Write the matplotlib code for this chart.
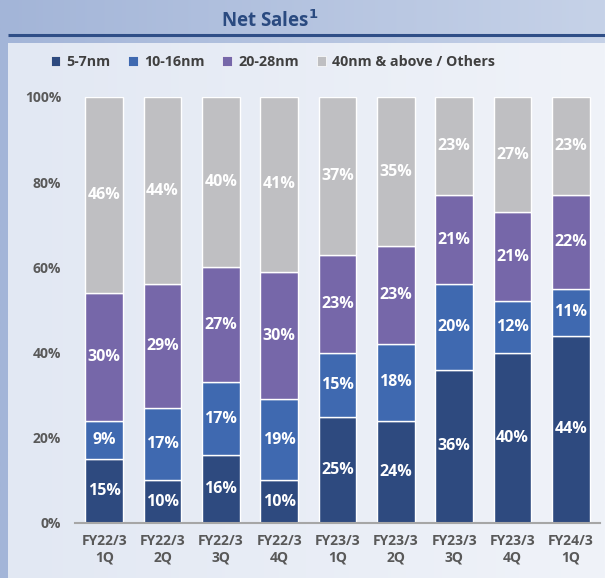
import numpy as np
import matplotlib
matplotlib.use("Agg")
import matplotlib.pyplot as plt
from matplotlib.patches import Patch
from matplotlib.colors import LinearSegmentedColormap

plt.rcParams['font.family'] = ['Open Sans', 'DejaVu Sans']

categories = ["FY22/3\n1Q", "FY22/3\n2Q", "FY22/3\n3Q", "FY22/3\n4Q", "FY23/3\n1Q",
              "FY23/3\n2Q", "FY23/3\n3Q", "FY23/3\n4Q", "FY24/3\n1Q"]
series_names = ["5-7nm", "10-16nm", "20-28nm", "40nm & above / Others"]
s_5_7 = [15, 10, 16, 10, 25, 24, 36, 40, 44]
s_10_16 = [9, 17, 17, 19, 15, 18, 20, 12, 11]
s_20_28 = [30, 29, 27, 30, 23, 23, 21, 21, 22]
s_40 = [46, 44, 40, 41, 37, 35, 23, 27, 23]
yticks = [0, 20, 40, 60, 80, 100]
ytick_labels = ["0%", "20%", "40%", "60%", "80%", "100%"]
title = "Net Sales$^{\\mathbf{1}}$"

colors = ["#2e4a7f", "#3f69b0", "#7667a9", "#bfbfc2"]

W, H = 605, 578
fig = plt.figure(figsize=(W / 100, H / 100), dpi=100)

# background
bg = fig.add_axes([0, 0, 1, 1], zorder=-10)
bg.axis('off')
grad = np.linspace(0, 1, 256).reshape(1, -1)
outer = LinearSegmentedColormap.from_list("o", ["#a3b5d8", "#c6d2e8"])
panel = LinearSegmentedColormap.from_list("p", ["#e2e8f3", "#f0f3f9"])
bg.imshow(grad, cmap=outer, extent=[0, W, H, 0], aspect='auto')
bg.imshow(grad, cmap=panel, extent=[8, W, H, 43], aspect='auto')
bg.plot([8, W], [35, 35], color="#2f4e87", lw=2.2, solid_capstyle='butt')
bg.set_xlim(0, W)
bg.set_ylim(H, 0)
fig.text(270 / W, 1 - 21 / H, title, ha='center', va='center', fontsize=13.5,
         fontweight='bold', color="#2a4a80")

ax = fig.add_axes([75 / W, 1 - 523 / H, 525 / W, 426 / H])
ax.patch.set_alpha(0)
x = np.arange(len(categories))
bottom = np.zeros(len(categories))
for vals, c, name in zip([s_5_7, s_10_16, s_20_28, s_40], colors, series_names):
    vals = np.array(vals, dtype=float)
    ax.bar(x, vals, 0.65, bottom=bottom, color=c, edgecolor='white',
           linewidth=1.0, label=name)
    for xi, b, v in zip(x, bottom, vals):
        ax.text(xi, b + v / 2, f"{int(v)}%", ha='center', va='center',
                color='white', fontsize=11.5, fontweight='bold')
    bottom += vals

ax.set_xlim(-0.5, 8.5)
ax.set_ylim(0, 100)
ax.set_yticks(yticks)
ax.set_yticklabels(ytick_labels)
ax.set_xticks(x)
ax.set_xticklabels(categories)
for lab in ax.get_xticklabels() + ax.get_yticklabels():
    lab.set_fontweight('bold')
    lab.set_color('#595959')
    lab.set_fontsize(10)
ax.tick_params(axis='both', length=0)
ax.tick_params(axis='y', pad=10)
ax.tick_params(axis='x', pad=8)
for s in ['top', 'right', 'left']:
    ax.spines[s].set_visible(False)
ax.spines['bottom'].set_color('#a6a6a6')
ax.spines['bottom'].set_linewidth(1.5)

handles = [Patch(facecolor=c, edgecolor='white', linewidth=0.5) for c in colors]
leg = fig.legend(handles, series_names, loc='center', bbox_to_anchor=(273 / W, 1 - 62 / H),
                 ncol=4, frameon=False, handlelength=0.65, handleheight=0.65,
                 handletextpad=0.45, columnspacing=1.25,
                 prop={'weight': 'bold', 'size': 10.3})
for t in leg.get_texts():
    t.set_color('#404040')

fig.savefig("out.png", dpi=100)
